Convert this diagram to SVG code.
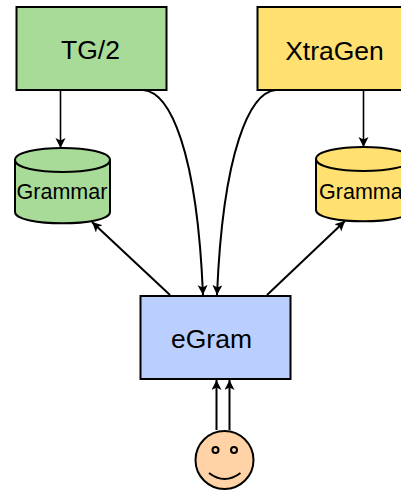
<svg xmlns="http://www.w3.org/2000/svg" width="401" height="491" viewBox="0 0 401 491">
<style>
.s{stroke:#000;stroke-width:2;stroke-linejoin:miter}
.t{font-family:"Liberation Sans",Arial,sans-serif;fill:#000;text-anchor:middle}
.big{font-size:26.500px}
.small{font-size:21.500px}
.c{fill:none;stroke:#000;stroke-width:2}
.thin{stroke-width:1.6}
.g{fill:#a8db98}
.y{fill:#ffe070}
</style>
<defs>
<marker id="a" markerUnits="userSpaceOnUse" markerWidth="12" markerHeight="12" refX="10" refY="5" orient="auto"><path d="M0 0L10 5L0 10L2.500 5Z" fill="#000"/></marker>
</defs>
<rect width="401" height="491" fill="#fff"/>
<g id="connectors">
<path class="c thin" d="M60.500 90V148" marker-end="url(#a)"/>
<path class="c thin" d="M363.500 90V147" marker-end="url(#a)"/>
<path class="c" d="M143 90C170 92 197 150 203 295" marker-end="url(#a)"/>
<path class="c" d="M276 90C250 92 223 150 217 295" marker-end="url(#a)"/>
<path class="c" d="M170 295L92 222" marker-end="url(#a)"/>
<path class="c" d="M267 295L345 221" marker-end="url(#a)"/>
<path class="c" d="M216.500 430V380" marker-end="url(#a)"/>
<path class="c" d="M229.500 430V380" marker-end="url(#a)"/>
</g>
<g id="tg2"><rect class="s g" x="16.500" y="7" width="150" height="83"/><text class="t big" x="90.500" y="59">TG/2</text></g>
<g id="xtragen"><rect class="s y" x="257.500" y="7" width="150" height="83"/><text class="t big" x="334.500" y="60">XtraGen</text></g>
<g id="grammar-left"><path class="s g" d="M15 160C15 144 110 144 110 160V212C110 227 15 227 15 212Z"/><path class="c" d="M15 160C15 176 110 176 110 160"/><text class="t small" x="62" y="199">Grammar</text></g>
<g id="grammar-right"><path class="s y" d="M316 159C316 143 411 143 411 159V210C411 225 316 225 316 210Z"/><path class="c" d="M316 159C316 175 411 175 411 159"/><text class="t small" x="364.500" y="198.500">Grammar</text></g>
<g id="egram"><rect fill="#bbcfff" class="s" x="140.500" y="296" width="150" height="83"/><text class="t big" x="211.500" y="348">eGram</text></g>
<g id="user"><circle class="s" fill="#ffd3a6" cx="224.500" cy="460" r="29"/><circle class="c" cx="215.500" cy="450" r="3"/><circle class="c" cx="234" cy="450" r="3"/><path class="c" d="M209 473Q224.500 485 240.500 473"/></g>
</svg>
